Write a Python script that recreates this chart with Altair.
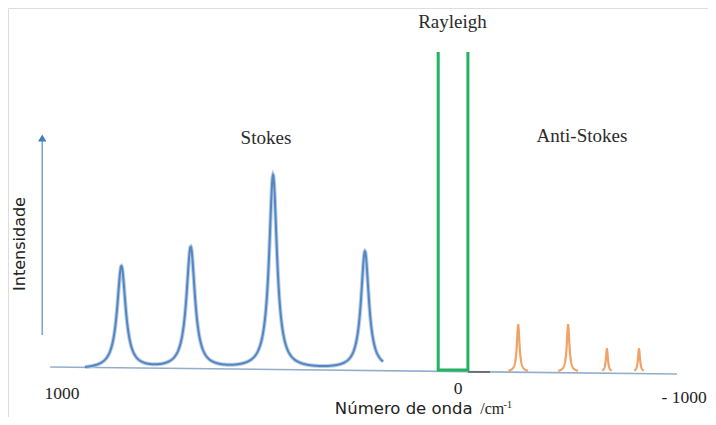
import altair as alt
import numpy as np
import pandas as pd

# ---- data (x: wavenumber shift in cm-1, y: intensity, arbitrary units)
stokes_pos = [850, 675, 467, 235]
stokes_top = [101, 120, 192, 116]
stokes_hwhm = [13, 13, 12, 12]
stokes_span = [942, 189]
stokes_base = -1.5

anti_pos = [-152, -278, -376, -457]
anti_top = [43, 43, 19, 19]
anti_hwhm = [4, 4, 3, 3]
anti_halfspan = [25, 25, 12, 12]
anti_base = -4

rayleigh_x = [50, 50, -25, -25]
rayleigh_y = [316, -2, -2, 316]

tick_values = [1000, 0, -628]
tick_labels = ["1000", "0", "- 1000"]
tick_align = ["center", "center", "right"]
tick_y = [-31, -26, -35]

region_labels = ["Stokes", "Rayleigh", "Anti-Stokes"]
region_x = [485, 14, -313]
region_y = [224, 340, 226]

# ---- build tables
def lorentz_sum(x, pos, top, hw, base):
    y = np.full_like(x, base, dtype=float)
    for p, t, g in zip(pos, top, hw):
        y += (t - base) * g**2 / ((x - p) ** 2 + g**2)
    return y

xs_blue = np.linspace(stokes_span[0], stokes_span[1], 900)
blue = pd.DataFrame({"x": xs_blue, "y": lorentz_sum(xs_blue, stokes_pos, stokes_top, stokes_hwhm, stokes_base)})

orange_rows = []
for i, (p, t, g, hs) in enumerate(zip(anti_pos, anti_top, anti_hwhm, anti_halfspan)):
    xx = np.linspace(p - hs, p + hs, 120)
    yy = anti_base + (t - anti_base) * g**2 / ((xx - p) ** 2 + g**2)
    for a, b in zip(xx, yy):
        orange_rows.append({"x": a, "y": b, "pk": i})
orange = pd.DataFrame(orange_rows)

ray = pd.DataFrame({"x": rayleigh_x, "y": rayleigh_y, "o": list(range(4))})
ticks = pd.DataFrame({"x": tick_values, "y": tick_y, "t": tick_labels, "a": tick_align})
regions = pd.DataFrame({"x": region_x, "y": region_y, "t": region_labels})

xsc = alt.Scale(domain=[1136.4, -631.3], nice=False, zero=False)
ysc = alt.Scale(domain=[-49, 360], nice=False, zero=False)
X = lambda f="x": alt.X(f"{f}:Q", scale=xsc, axis=None)
Y = lambda f="y": alt.Y(f"{f}:Q", scale=ysc, axis=None)

baseline = alt.Chart(pd.DataFrame({"x": [1030], "x2": [-553], "y": [1], "y2": [-6]})).mark_rule(
    color="#93aecb", strokeWidth=1.6).encode(x=X(), x2="x2:Q", y=Y(), y2="y2:Q")

arrow_line = alt.Chart(pd.DataFrame({"x": [1050], "y": [33], "y2": [228]})).mark_rule(
    color="#6f9ccc", strokeWidth=1.4).encode(x=X(), y=Y(), y2="y2:Q")
arrow_head = alt.Chart(pd.DataFrame({"x": [1050], "y": [230]})).mark_point(
    shape="triangle-up", filled=True, size=70, color="#3f7fc0", opacity=1).encode(x=X(), y=Y())

blue_halo = alt.Chart(blue).mark_line(color="#b8cfe8", strokeWidth=4.0).encode(x=X(), y=Y(), order="x:Q")
blue_line = alt.Chart(blue).mark_line(color="#5785bf", strokeWidth=2.0).encode(x=X(), y=Y(), order="x:Q")

orange_line = alt.Chart(orange).mark_line(color="#f2a264", strokeWidth=2.2).encode(
    x=X(), y=Y(), detail="pk:N", order="x:Q")

ray_line = alt.Chart(ray).mark_line(color="#22b360", strokeWidth=3, strokeJoin="miter").encode(
    x=X(), y=Y(), order="o:Q")

dark_seg = alt.Chart(pd.DataFrame({"x": [-25], "x2": [-81], "y": [-4]})).mark_rule(
    color="#5a5a5a", strokeWidth=1.5).encode(x=X(), x2="x2:Q", y=Y())

tick_center = alt.Chart(ticks[ticks.a == "center"]).mark_text(
    font="Liberation Serif", fontSize=17.5, color="#222222", align="center", baseline="alphabetic").encode(
    x=X(), y=Y(), text="t:N")
tick_right = alt.Chart(ticks[ticks.a == "right"]).mark_text(
    font="Liberation Serif", fontSize=17.5, color="#222222", align="right", baseline="alphabetic").encode(
    x=X(), y=Y(), text="t:N")
region_text = alt.Chart(regions).mark_text(font="Liberation Serif", fontSize=19, color="#2a2a2a",
                                           align="center", baseline="alphabetic").encode(x=X(), y=Y(), text="t:N")

xtitle = alt.Chart(pd.DataFrame({"x": [311], "y": [-46], "t": ["Número de onda"]})).mark_text(
    font="DejaVu Sans", fontSize=16.5, color="#222222", align="left", baseline="alphabetic").encode(
    x=X(), y=Y(), text="t:N")
xunit = alt.Chart(pd.DataFrame({"x": [-56], "y": [-46], "t": ["/cm"]})).mark_text(
    font="Liberation Serif", fontSize=16, color="#222222", align="left", baseline="alphabetic").encode(
    x=X(), y=Y(), text="t:N")
xsup = alt.Chart(pd.DataFrame({"x": [-115], "y": [-40], "t": ["-1"]})).mark_text(
    font="Liberation Serif", fontSize=10, color="#222222", align="left", baseline="alphabetic").encode(
    x=X(), y=Y(), text="t:N")
ytitle = alt.Chart(pd.DataFrame({"x": [1106], "y": [124], "t": ["Intensidade"]})).mark_text(
    font="DejaVu Sans", fontSize=16, color="#222222", align="center", baseline="middle", angle=270).encode(
    x=X(), y=Y(), text="t:N")

chart = alt.layer(
    baseline, arrow_line, arrow_head, blue_halo, blue_line, orange_line, dark_seg, ray_line,
    tick_center, tick_right, region_text, xtitle, xunit, xsup, ytitle
).properties(width=700, height=409, padding=0, autosize=alt.AutoSizeParams(type="none")).configure_view(
    stroke=None).configure(background="white")

chart.save("out.html", embed_options={"renderer": "svg", "actions": False})
